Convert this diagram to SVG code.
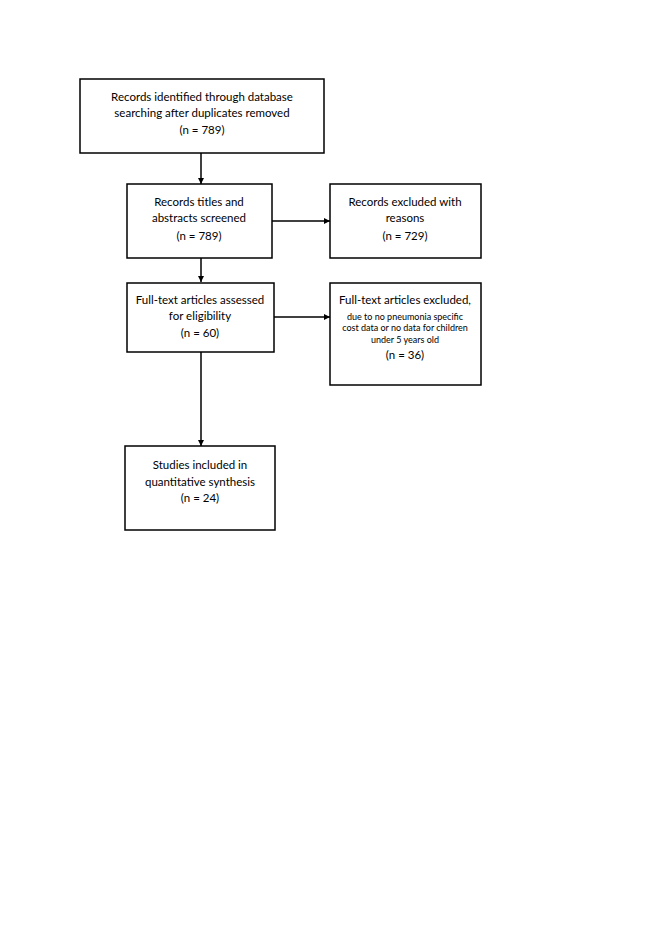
<svg xmlns="http://www.w3.org/2000/svg" width="661" height="935" viewBox="0 0 661 935">
<style>
.box{fill:#fff;stroke:#000;stroke-width:1.5}
.t{font-family:Lato,"Open Sans","Liberation Sans",sans-serif;font-size:11.5px;fill:#000;text-anchor:middle}
.s{font-size:9px}
.c{stroke:#000;stroke-width:1.5;fill:none;marker-end:url(#ah)}
</style>
<defs>
<marker id="ah" viewBox="0 0 10 10" refX="10" refY="5" markerWidth="6" markerHeight="6" markerUnits="userSpaceOnUse" orient="auto">
<path d="M0,0 L10,5 L0,10 z" fill="#000"/>
</marker>
</defs>
<rect width="661" height="935" fill="#fff"/>
<g id="connectors">
<line class="c" x1="201" y1="153" x2="201" y2="184"/>
<line class="c" x1="272" y1="221" x2="330" y2="221"/>
<line class="c" x1="201" y1="258" x2="201" y2="282"/>
<line class="c" x1="274" y1="317" x2="330" y2="317"/>
<line class="c" x1="201" y1="352" x2="201" y2="446"/>
</g>
<g id="n1">
<rect class="box" x="80" y="79" width="244" height="74"/>
<text class="t" x="202" y="101">Records identified through database</text>
<text class="t" x="202" y="117">searching after duplicates removed</text>
<text class="t" x="202" y="134">(n = 789)</text>
</g>
<g id="n2">
<rect class="box" x="127" y="184" width="145" height="74"/>
<text class="t" x="199" y="206">Records titles and</text>
<text class="t" x="199" y="222">abstracts screened</text>
<text class="t" x="199" y="240">(n = 789)</text>
</g>
<g id="n3">
<rect class="box" x="330" y="184" width="151" height="74"/>
<text class="t" x="405" y="206">Records excluded with</text>
<text class="t" x="405" y="222">reasons</text>
<text class="t" x="405" y="240">(n = 729)</text>
</g>
<g id="n4">
<rect class="box" x="127" y="283" width="147" height="69"/>
<text class="t" x="200" y="304">Full-text articles assessed</text>
<text class="t" x="200" y="320">for eligibility</text>
<text class="t" x="200" y="337">(n = 60)</text>
</g>
<g id="n5">
<rect class="box" x="330" y="283" width="151" height="102"/>
<text class="t" x="405" y="304">Full-text articles excluded,</text>
<text class="t s" x="405" y="320">due to no pneumonia specific</text>
<text class="t s" x="405" y="331">cost data or no data for children</text>
<text class="t s" x="405" y="343">under 5 years old</text>
<text class="t" x="405" y="359">(n = 36)</text>
</g>
<g id="n6">
<rect class="box" x="125" y="446" width="150" height="84"/>
<text class="t" x="200" y="469">Studies included in</text>
<text class="t" x="200" y="486">quantitative synthesis</text>
<text class="t" x="200" y="502">(n = 24)</text>
</g>
</svg>
